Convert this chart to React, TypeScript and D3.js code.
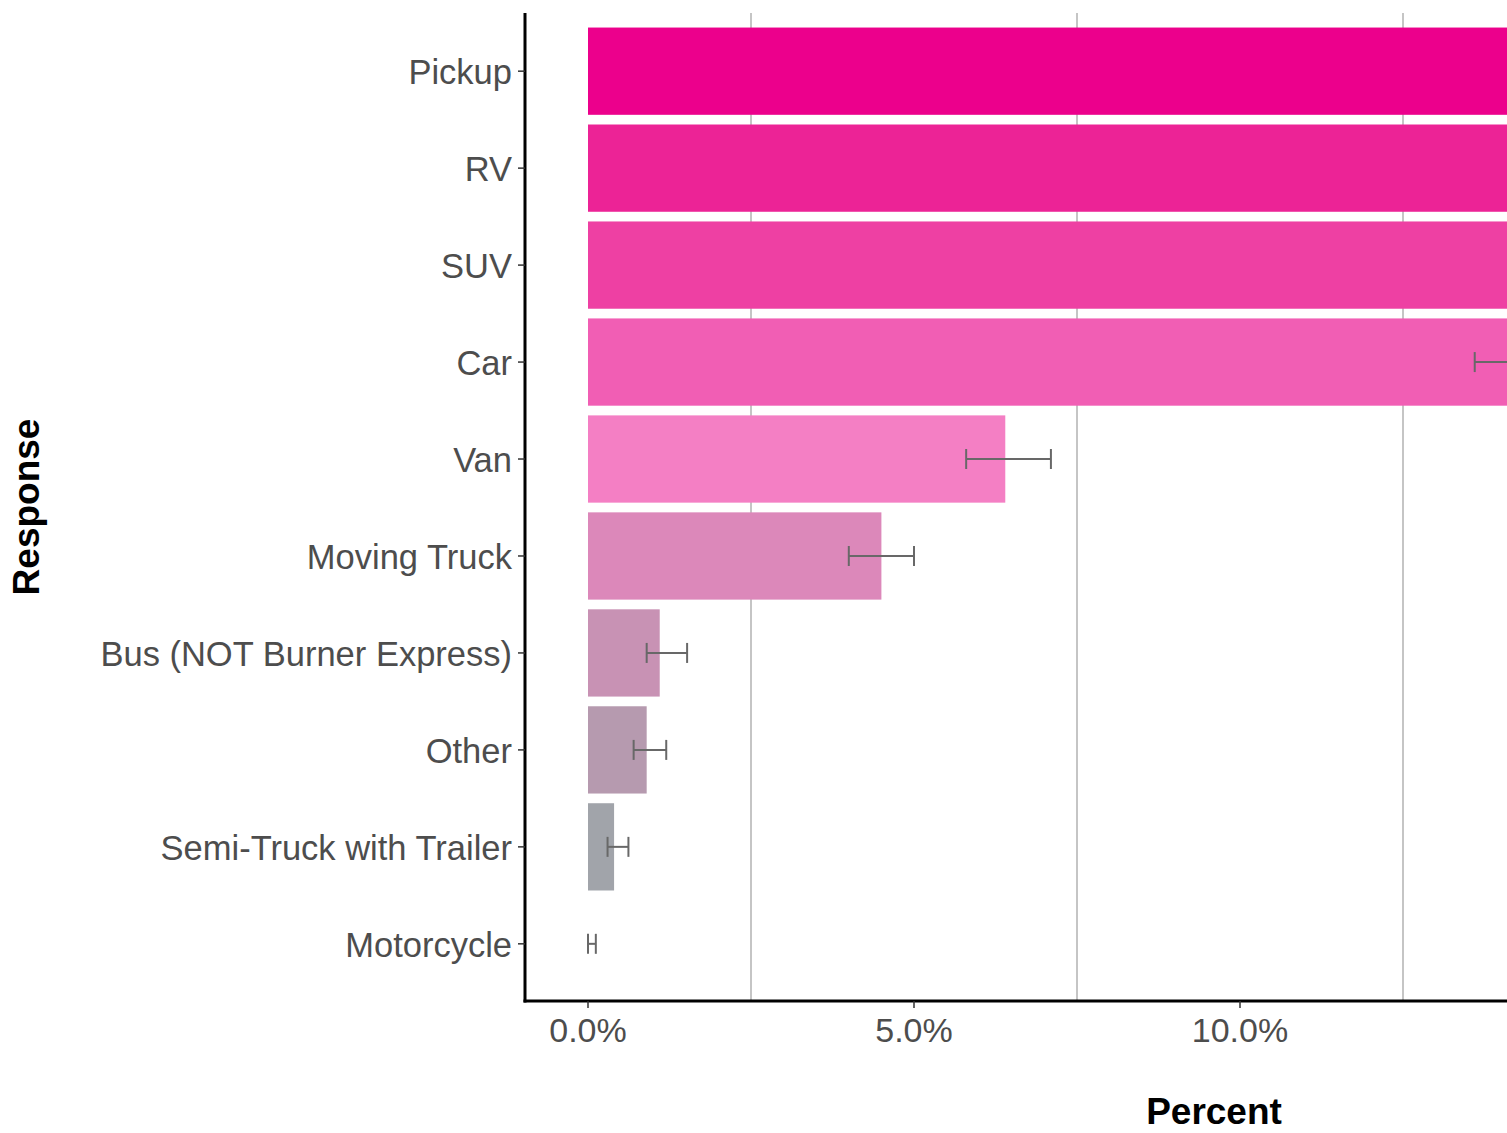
import React from "react";
import * as d3 from "d3";

const categories = ["Pickup", "RV", "SUV", "Car", "Van", "Moving Truck", "Bus (NOT Burner Express)", "Other", "Semi-Truck with Trailer", "Motorcycle"];
const values = [40.0, 30.0, 22.0, 15.5, 6.4, 4.5, 1.1, 0.9, 0.4, 0.0];
const errLow = [37.5, 27.8, 20.0, 13.6, 5.8, 4.0, 0.9, 0.7, 0.3, 0.0];
const errHigh = [42.5, 32.2, 24.0, 17.4, 7.1, 5.0, 1.52, 1.2, 0.62, 0.12];
const barColors = ["#EC008C", "#EC2396", "#EE40A3", "#F15EB4", "#F47FC4", "#DC88BA", "#C892B4", "#B69AAF", "#A1A4AA", "#9EA3A9"];
const xTicks = [0, 5, 10];
const xMinorGrid = [2.5, 7.5, 12.5];

const W = 1507;
const H = 1133;
const panelLeft = 525;
const panelTop = 13;
const panelBottom = 1001;

export default function App() {
  const x = d3.scaleLinear().domain([0, 10]).range([588, 1240]);
  const y = d3
    .scaleBand<string>()
    .domain(categories)
    .range([panelTop, panelBottom + 1])
    .paddingInner(0.1)
    .paddingOuter(0.15);
  const fmt = (v: number) => v.toFixed(1) + "%";
  const font = "'Liberation Sans', Arial, sans-serif";
  const capH = 10;

  return (
    <svg
      width={W}
      height={H}
      style={{ position: "absolute", left: 0, top: 0, background: "#fff" }}
      fontFamily={font}
    >
      <defs>
        <clipPath id="panel">
          <rect x={panelLeft} y={panelTop} width={W - panelLeft} height={panelBottom - panelTop} />
        </clipPath>
      </defs>
      <rect x={0} y={0} width={W} height={H} fill="#fff" />
      <g clipPath="url(#panel)">
        {xMinorGrid.map((g) => (
          <line key={g} x1={x(g)} x2={x(g)} y1={panelTop} y2={panelBottom} stroke="#9E9E9E" strokeWidth={1.2} />
        ))}
        {categories.map((c, i) => (
          <rect
            key={c}
            x={x(0)}
            y={y(c)!}
            width={Math.max(0, x(values[i]) - x(0))}
            height={y.bandwidth()}
            fill={barColors[i]}
          />
        ))}
        {categories.map((c, i) => {
          const cy = y(c)! + y.bandwidth() / 2;
          const x1 = x(errLow[i]);
          const x2 = x(errHigh[i]);
          return (
            <g key={c} stroke="#686868" strokeWidth={2}>
              <line x1={x1} x2={x2} y1={cy} y2={cy} />
              <line x1={x1} x2={x1} y1={cy - capH} y2={cy + capH} />
              <line x1={x2} x2={x2} y1={cy - capH} y2={cy + capH} />
            </g>
          );
        })}
      </g>
      {/* axes */}
      <line x1={panelLeft} x2={panelLeft} y1={panelTop} y2={panelBottom + 1.5} stroke="#000" strokeWidth={3} />
      <line x1={panelLeft - 1.5} x2={W} y1={panelBottom} y2={panelBottom} stroke="#000" strokeWidth={3} />
      {categories.map((c) => {
        const cy = y(c)! + y.bandwidth() / 2;
        return (
          <g key={c}>
            <line x1={panelLeft - 7} x2={panelLeft} y1={cy} y2={cy} stroke="#333" strokeWidth={1.5} />
            <text x={panelLeft - 13} y={cy} dy="0.38em" textAnchor="end" fontSize={34.5} fill="#4D4D4D">
              {c}
            </text>
          </g>
        );
      })}
      {xTicks.map((t) => (
        <g key={t}>
          <line x1={x(t)} x2={x(t)} y1={panelBottom} y2={panelBottom + 7} stroke="#333" strokeWidth={1.5} />
          <text x={x(t)} y={1042} textAnchor="middle" fontSize={34} fill="#4D4D4D">
            {fmt(t)}
          </text>
        </g>
      ))}
      <text x={1214} y={1124} textAnchor="middle" fontSize={37} fontWeight="bold" fill="#000">
        Percent
      </text>
      <text
        transform={`translate(39, ${(panelTop + panelBottom) / 2}) rotate(-90)`}
        textAnchor="middle"
        fontSize={37}
        fontWeight="bold"
        fill="#000"
      >
        Response
      </text>
    </svg>
  );
}
